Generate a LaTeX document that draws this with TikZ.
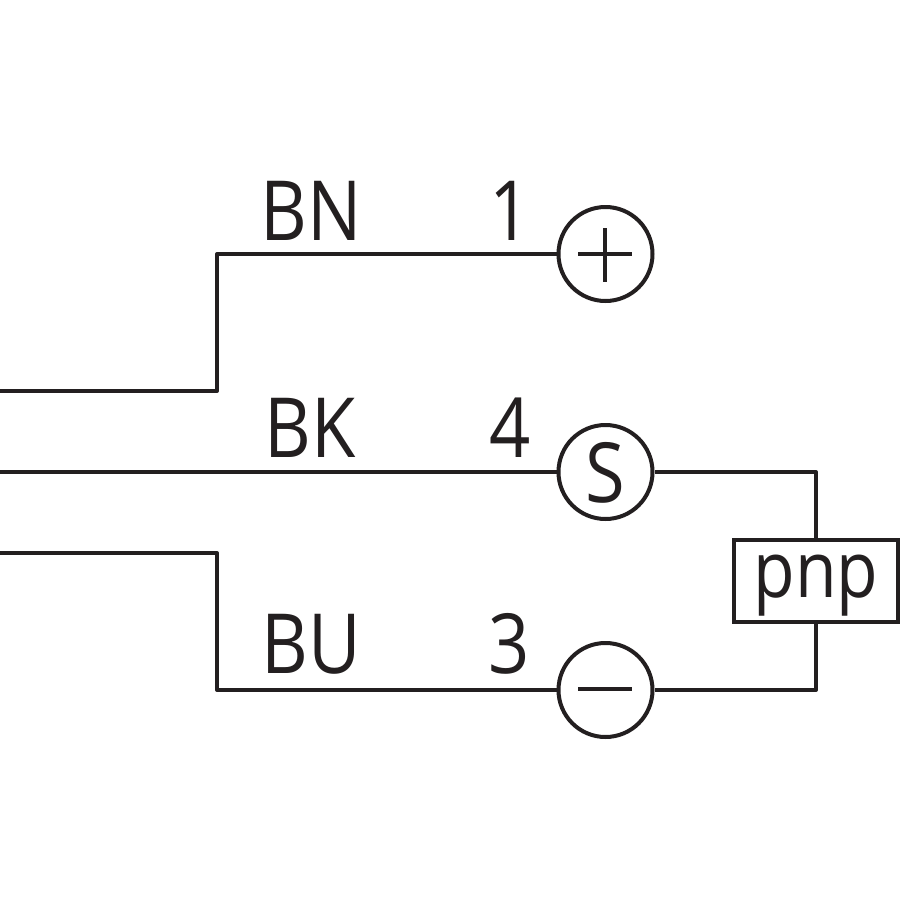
\documentclass[tikz,border=0pt]{standalone}
\usepackage{fontspec}
\setmainfont[FakeStretch=0.87]{Open Sans}
\usepackage{xcolor}
\definecolor{dnden}{HTML}{231F20}
\usetikzlibrary{positioning}
\begin{document}
\begin{tikzpicture}[x=1pt,y=-1pt,
		line width=4pt,draw=dnden]%
	\tikzset{
		wirelabel/.style={font=\fontsize{83}{83}\selectfont,text=dnden,inner sep=0pt,anchor=base},
		terminal/.style={circle,draw=dnden,line width=4pt,minimum size=94pt,inner sep=0pt,text=dnden,font=\fontsize{83}{83}\selectfont},
		pnpbox/.style={rectangle,draw=dnden,line width=4pt,minimum width=164pt,minimum height=82pt,inner sep=0pt}
	}
	\useasboundingbox (0,0) rectangle (900,900);
	\node[terminal] (plus) at (605.5,254) {};
	\node[terminal] (sig) at (605.5,472) {};
	\node[terminal] (minus) at (605.5,690) {};
	\node[pnpbox] (pnp) at (816,581) {};
	%% plus and minus signs
	\coordinate (pw) at (578,254);
	\coordinate (pe) at (632,254);
	\coordinate (pn) at (605,228);
	\coordinate (ps) at (605,282);
	\coordinate (mw) at (578,689);
	\coordinate (me) at (632,689);
	\draw (pw) -- (pe);
	\draw (pn) -- (ps);
	\draw (mw) -- (me);
	%% free ends at the left
	\coordinate (bnstart) at (0,391);
	\coordinate (bkstart) at (0,472);
	\coordinate (bustart) at (0,553);
	\coordinate (bnbend) at (217,391);
	\coordinate (bubend) at (217,553);
	%% wires
	\draw[line join=round] (bnstart) -- (bnbend) |- (plus.west);
	\draw (bkstart) -- (sig.west);
	\draw[line join=round] (bustart) -- (bubend) |- (minus.west);
	\draw[line join=round] (sig.east) -| (pnp.north);
	\draw[line join=round] (minus.east) -| (pnp.south);
	%% labels
	\node[wirelabel] (bn) at (311,240) {BN};
	\node[wirelabel] (n1) at (510,240) {1};
	\node[wirelabel] (bk) at (310,457) {BK};
	\node[wirelabel] (n4) at (510,457) {4};
	\node[wirelabel] (bu) at (311,673) {BU};
	\node[wirelabel] (n3) at (509,673) {3};
	\node[wirelabel] (sname) at (605.5,502) {S};
	\node[wirelabel,font=\fontsize{78}{78}\selectfont] (pnpname) at (816,597) {pnp};
\end{tikzpicture}
\end{document}
